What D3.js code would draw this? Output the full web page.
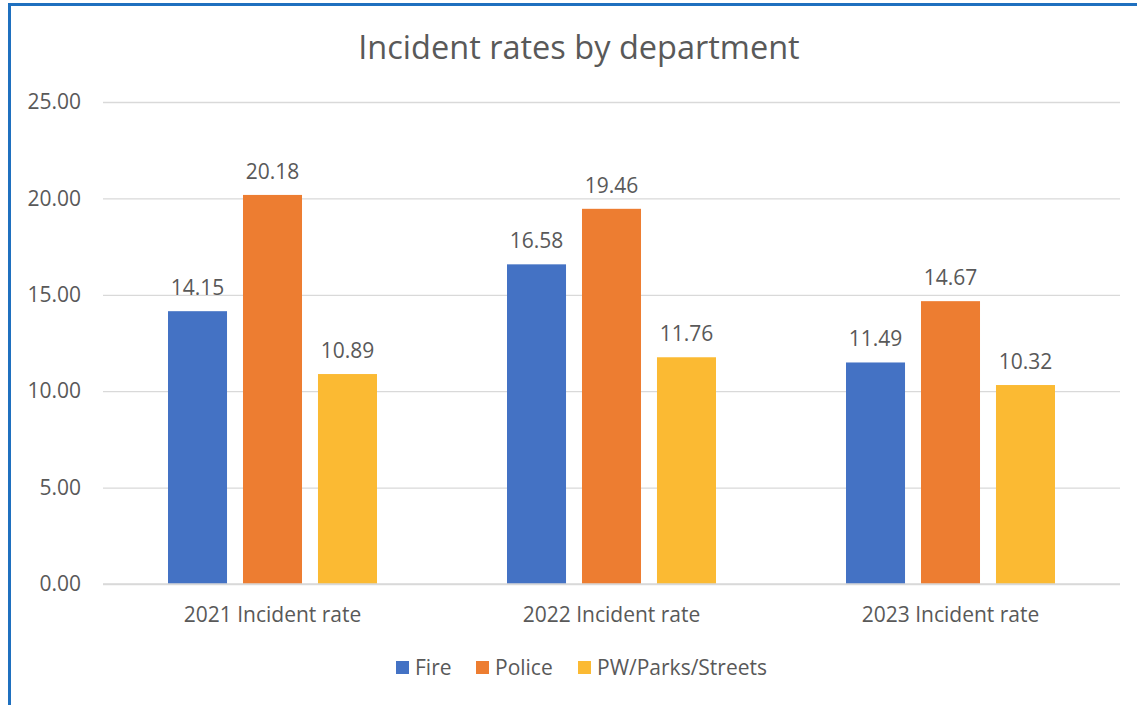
<!DOCTYPE html>
<html>
<head>
<meta charset="utf-8">
<script src="https://cdn.jsdelivr.net/npm/d3@7"></script>
<style>
  body { margin: 0; background: #fff; }
  text { font-family: "Open Sans", sans-serif; fill: #595959; }
</style>
</head>
<body>
<script>
const w = 1137;
const h = 705;

const categories = ["2021 Incident rate", "2022 Incident rate", "2023 Incident rate"];
const seriesNames = ["Fire", "Police", "PW/Parks/Streets"];
const fireValues = [14.15, 16.58, 11.49];
const policeValues = [20.18, 19.46, 14.67];
const pwValues = [10.89, 11.76, 10.32];
const yTicks = [0, 5, 10, 15, 20, 25];
const colors = ["#4472C4", "#ED7D31", "#FBBA33"];

const seriesValues = [fireValues, policeValues, pwValues];

const svg = d3.select("body")
  .append("svg")
  .attr("width", w)
  .attr("height", h);

// chart frame (only the top and left edges show)
svg.append("rect")
  .attr("x", 9.5)
  .attr("y", 4.5)
  .attr("width", w + 20)
  .attr("height", h + 20)
  .attr("fill", "none")
  .attr("stroke", "#1F70BF")
  .attr("stroke-width", 3);

const plotLeft = 103, plotRight = 1120, plotTop = 102, plotBottom = 584;

const x0 = d3.scaleBand()
  .domain(categories)
  .range([plotLeft, plotRight]);

const x1 = d3.scaleBand()
  .domain(seriesNames)
  .range([65, x0.bandwidth() - 65])
  .paddingInner(0.213);

const y = d3.scaleLinear()
  .domain([0, 25])
  .range([plotBottom, plotTop]);

// grid lines
const yAxis = d3.axisLeft(y)
  .tickValues(yTicks)
  .tickSize(-(plotRight - plotLeft))
  .tickPadding(22)
  .tickFormat(d3.format(".2f"));

const yg = svg.append("g")
  .attr("transform", "translate(" + plotLeft + ",0)")
  .call(yAxis);
yg.select(".domain").remove();
yg.selectAll(".tick line").attr("stroke", "#D9D9D9").attr("stroke-width", 1.3);
yg.selectAll(".tick text")
  .attr("font-size", 21)
  .style("font-family", "\"Open Sans\", sans-serif")
  .attr("fill", "#595959");

const groups = svg.selectAll("g.group")
  .data(categories)
  .enter()
  .append("g")
  .attr("class", "group")
  .attr("transform", d => "translate(" + x0(d) + ",0)");

groups.selectAll("rect")
  .data((d, i) => seriesNames.map((s, j) => ({ s: s, j: j, v: seriesValues[j][i] })))
  .enter()
  .append("rect")
  .attr("x", d => x1(d.s))
  .attr("y", d => y(d.v))
  .attr("width", x1.bandwidth())
  .attr("height", d => y(0) - y(d.v))
  .attr("fill", d => colors[d.j]);

groups.selectAll("text.label")
  .data((d, i) => seriesNames.map((s, j) => ({ s: s, j: j, v: seriesValues[j][i] })))
  .enter()
  .append("text")
  .attr("class", "label")
  .attr("x", d => x1(d.s) + x1.bandwidth() / 2)
  .attr("y", d => y(d.v) - 16)
  .attr("text-anchor", "middle")
  .attr("font-size", 21)
  .text(d => d.v.toFixed(2));

// baseline over the bars
svg.append("line")
  .attr("x1", plotLeft)
  .attr("x2", plotRight)
  .attr("y1", y(0))
  .attr("y2", y(0))
  .attr("stroke", "#D9D9D9")
  .attr("stroke-width", 1.3);

// category labels
svg.selectAll("text.cat")
  .data(categories)
  .enter()
  .append("text")
  .attr("class", "cat")
  .attr("x", d => x0(d) + x0.bandwidth() / 2)
  .attr("y", 622)
  .attr("text-anchor", "middle")
  .attr("font-size", 21)
  .text(d => d);

// title
svg.append("text")
  .attr("x", 579)
  .attr("y", 59)
  .attr("text-anchor", "middle")
  .attr("font-size", 32.5)
  .text("Incident rates by department");

// legend
const legendX = [396, 476, 578];
const legend = svg.selectAll("g.legend")
  .data(seriesNames)
  .enter()
  .append("g")
  .attr("class", "legend")
  .attr("transform", (d, i) => "translate(" + legendX[i] + ",661)");

legend.append("rect")
  .attr("width", 13)
  .attr("height", 13)
  .attr("fill", (d, i) => colors[i]);

legend.append("text")
  .attr("x", 19)
  .attr("y", 14)
  .attr("font-size", 21)
  .text(d => d);
</script>
</body>
</html>
